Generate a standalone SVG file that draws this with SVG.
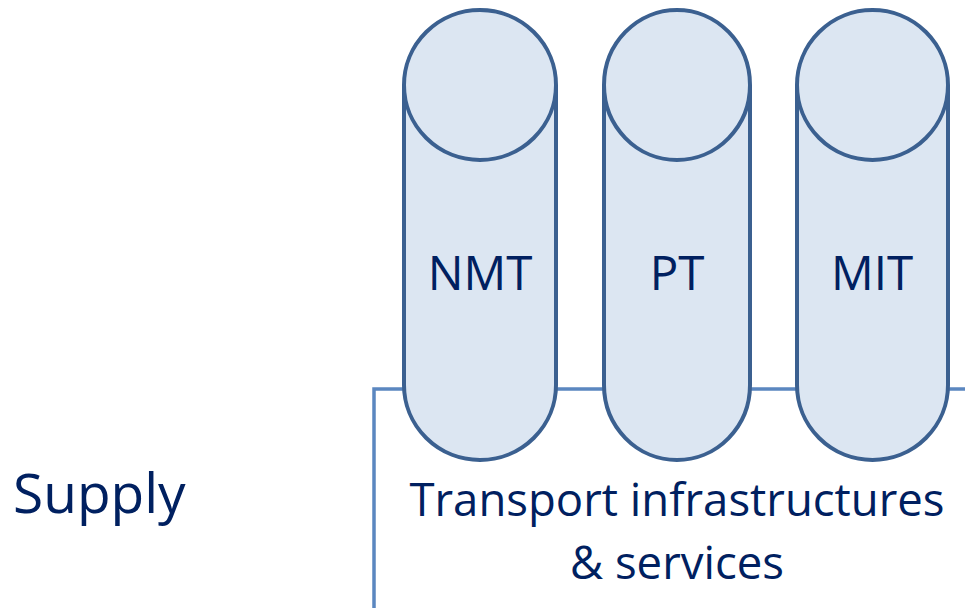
<svg xmlns="http://www.w3.org/2000/svg" width="965" height="608" viewBox="0 0 965 608">
<style>
.cyl{fill:#dce6f2;stroke:#3b6090;stroke-width:4}
.t{font-family:"Open Sans","Noto Sans",sans-serif;fill:#002060;font-size:45.5px}
.c{font-size:47.5px}
</style>
<rect width="965" height="608" fill="#fff"/>
<g id="base">
<path d="M374 608 V389 H970" fill="none" stroke="#5b87c0" stroke-width="3.5"/>
<text class="t" x="677" y="516" text-anchor="middle">Transport infrastructures</text>
<text class="t" x="677" y="579" text-anchor="middle">&amp; services</text>
</g>
<g id="supply"><text class="t" x="13" y="513" style="font-size:55px">Supply</text></g>
<g id="nmt">
<path class="cyl" d="M404 85 V385 A76 75 0 0 0 556 385 V85"/>
<ellipse class="cyl" cx="480" cy="85" rx="76" ry="75"/>
<text class="t c" x="480" y="290" text-anchor="middle">NMT</text>
</g>
<g id="pt">
<path class="cyl" d="M604 85 V385 A73 75 0 0 0 750 385 V85"/>
<ellipse class="cyl" cx="677" cy="85" rx="73" ry="75"/>
<text class="t c" x="677" y="290" text-anchor="middle">PT</text>
</g>
<g id="mit">
<path class="cyl" d="M797 85 V385 A75.5 75 0 0 0 948 385 V85"/>
<ellipse class="cyl" cx="872.5" cy="85" rx="75.5" ry="75"/>
<text class="t c" x="872" y="290" text-anchor="middle">MIT</text>
</g>
<g id="connectors"/>
</svg>
